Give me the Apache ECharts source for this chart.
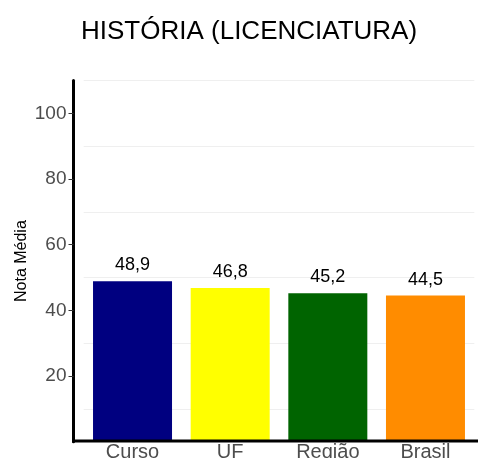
<!DOCTYPE html>
<html>
<head>
<meta charset="utf-8">
<script src="https://cdn.jsdelivr.net/npm/echarts@6/dist/echarts.min.js"></script>
<style>
html,body{margin:0;padding:0;background:#fff;}
#chart{width:478px;height:458px;}
</style>
</head>
<body>
<div id="chart"></div>
<script>
const titleText = 'HISTÓRIA (LICENCIATURA)';
const yAxisTitle = 'Nota Média';
const categories = ['Curso', 'UF', 'Região', 'Brasil'];
const values = [48.9, 46.8, 45.2, 44.5];
const barColors = ['#000080', '#FFFF00', '#006400', '#FF8C00'];
const yTickValues = [20, 40, 60, 80, 100];
const yMinorGrid = [10, 30, 50, 70, 90, 110];
const yMin = 0, yMax = 110;

const FONT = '"Liberation Sans", Arial, Helvetica, sans-serif';
const chart = echarts.init(document.getElementById('chart'), null, {renderer: 'canvas'});

const option = {
  animation: false,
  backgroundColor: '#ffffff',
  title: {
    text: titleText,
    left: 76,
    top: 14,
    textStyle: {
      fontFamily: FONT,
      fontSize: 26,
      fontWeight: 'normal',
      color: '#000000'
    }
  },
  grid: {left: 83.7, right: 3.7, top: 80.5, bottom: 16.3, containLabel: false, outerBoundsMode: 'none'},
  xAxis: {
    type: 'category',
    data: categories,
    axisLine: {show: false},
    axisTick: {show: false},
    splitLine: {show: false},
    axisLabel: {
      fontFamily: FONT, fontSize: 20, color: '#4D4D4D', margin: 1, hideOverlap: false
    }
  },
  yAxis: [{
    type: 'value',
    min: yMin, max: yMax,
    offset: 10.2,
    name: yAxisTitle,
    nameLocation: 'middle',
    nameGap: 44,
    nameMoveOverlap: false,
    nameTextStyle: {fontFamily: FONT, fontSize: 16, color: '#000000'},
    axisLine: {show: true, lineStyle: {color: '#000000', width: 3}},
    axisTick: {show: true, length: 5, customValues: yTickValues, lineStyle: {color: '#333333', width: 1}},
    axisLabel: {show: true, customValues: yTickValues, fontFamily: FONT, fontSize: 19, color: '#4D4D4D', margin: 7},
    splitLine: {show: false}
  }, {
    type: 'value',
    min: yMin, max: yMax,
    position: 'left',
    axisLine: {show: false},
    axisLabel: {show: false},
    axisTick: {show: false, customValues: yMinorGrid},
    splitLine: {show: true, lineStyle: {color: '#EFEFEF', width: 1}}
  }],
  series: [{
    type: 'bar',
    yAxisIndex: 0,
    barWidth: 79,
    data: values.map((v, i) => ({value: v, itemStyle: {color: barColors[i]}})),
    label: {
      show: true,
      position: 'top',
      distance: 7,
      fontFamily: FONT,
      fontSize: 18,
      color: '#000000',
      formatter: p => p.value.toFixed(1).replace('.', ',')
    }
  }],
  graphic: [{
    type: 'line',
    z: 100,
    shape: {x1: 72, y1: 441, x2: 478, y2: 441},
    style: {stroke: '#000000', lineWidth: 3}
  }]
};
chart.setOption(option);
</script>
</body>
</html>
